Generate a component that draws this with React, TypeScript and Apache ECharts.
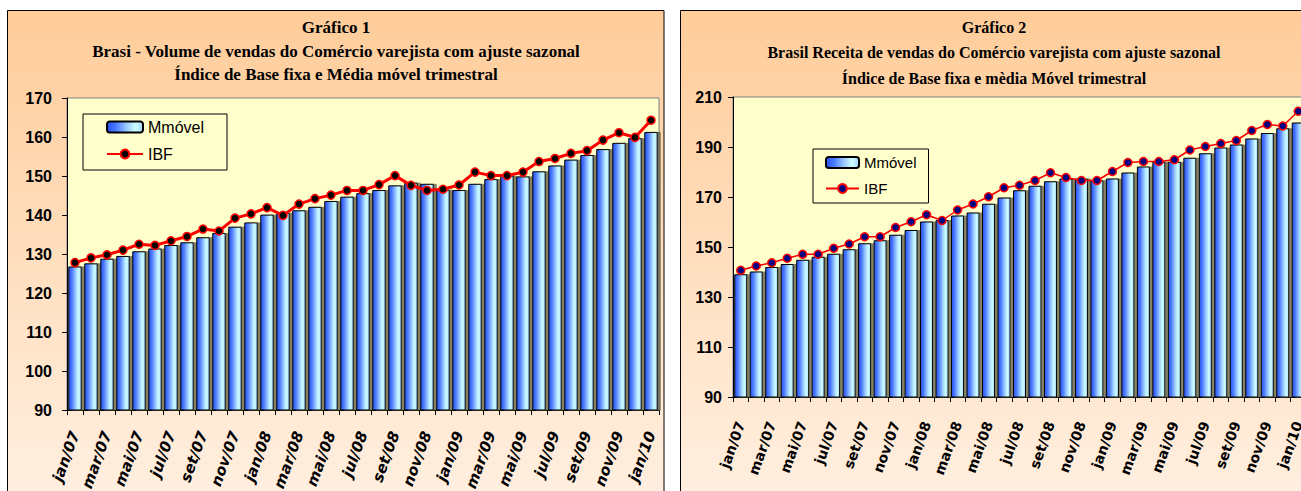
import React, { useEffect, useRef } from "react";
import * as echarts from "echarts";

const months = [
  "jan/07", "fev/07", "mar/07", "abr/07", "mai/07", "jun/07", "jul/07", "ago/07", "set/07", "out/07", "nov/07", "dez/07",
  "jan/08", "fev/08", "mar/08", "abr/08", "mai/08", "jun/08", "jul/08", "ago/08", "set/08", "out/08", "nov/08", "dez/08",
  "jan/09", "fev/09", "mar/09", "abr/09", "mai/09", "jun/09", "jul/09", "ago/09", "set/09", "out/09", "nov/09", "dez/09",
  "jan/10",
];

const volMmovel = [
  126.8, 127.6, 128.8, 129.5, 130.7, 131.4, 132.3, 133.0, 134.3, 135.4, 137.0, 138.1,
  140.1, 140.6, 141.2, 142.1, 143.6, 144.7, 145.6, 146.4, 147.6, 148.3, 148.0, 146.5,
  146.4, 148.0, 149.2, 150.1, 149.9, 151.2, 152.7, 154.2, 155.4, 156.9, 158.5, 159.7,
  161.3,
];
const volIBF = [
  127.8, 129.0, 129.8, 131.0, 132.5, 132.2, 133.4, 134.5, 136.4, 135.9, 139.2, 140.3,
  141.9, 139.9, 142.8, 144.2, 145.1, 146.3, 146.3, 147.8, 150.1, 147.6, 146.3, 146.6,
  147.7, 151.0, 150.1, 150.1, 151.0, 153.7, 154.5, 155.8, 156.5, 159.2, 161.1, 159.9,
  164.3,
];
const recMmovel = [
  139.1, 140.2, 142.0, 143.2, 144.9, 146.1, 147.3, 149.1, 151.5, 152.7, 154.9, 156.8,
  160.2, 160.8, 162.6, 163.8, 167.3, 169.8, 172.7, 174.5, 176.3, 177.4, 177.4, 176.7,
  177.4, 179.8, 182.2, 184.1, 184.1, 185.7, 187.5, 189.8, 191.0, 193.4, 195.6, 197.5,
  199.8,
];
const recIBF = [
  140.7, 142.4, 143.7, 145.5, 147.1, 147.1, 149.5, 151.2, 154.1, 154.1, 157.8, 160.1,
  162.9, 160.6, 164.8, 167.2, 170.1, 173.7, 174.7, 176.6, 179.7, 177.8, 176.6, 176.6,
  180.2, 183.8, 184.2, 184.2, 184.9, 188.8, 190.2, 191.4, 192.6, 196.6, 199.0, 198.4,
  204.3,
];

const title1 = [
  "Gráfico 1",
  "Brasi - Volume de vendas do Comércio varejista com ajuste sazonal",
  "Índice de Base fixa e Média móvel trimestral",
];
const title2 = [
  "Gráfico 2",
  "Brasil Receita de vendas do Comércio varejista com ajuste sazonal",
  "Índice de Base fixa e mèdia Móvel trimestral",
];

const barGradient = () =>
  new echarts.graphic.LinearGradient(0, 0, 1, 0, [
    { offset: 0, color: "#2A52F5" },
    { offset: 0.25, color: "#4A7BFF" },
    { offset: 0.55, color: "#9CCBFF" },
    { offset: 0.8, color: "#CCFFFF" },
    { offset: 1, color: "#A6D4FF" },
  ]);

const frameGradient = () =>
  new echarts.graphic.LinearGradient(0, 0, 0, 1, [
    { offset: 0, color: "#FFCC99" },
    { offset: 0.45, color: "#FFDDBB" },
    { offset: 1, color: "#FFF0E2" },
  ]);

export default function App() {
  const ref = useRef<HTMLDivElement>(null);

  useEffect(() => {
    document.body.style.margin = "0";
    const chart = echarts.init(ref.current!, null, { renderer: "svg" });

    const titleText = (lines: string[], cx: number, ys: number[], size: number) =>
      lines.map((t, i) => ({
        type: "text",
        z: 10,
        style: {
          text: t,
          x: cx,
          y: ys[i],
          align: "center",
          verticalAlign: "middle",
          fontSize: size,
          fontWeight: "bold",
          fontFamily: "Liberation Serif",
          fill: "#000",
        },
      }));

    const yAxisCommon = (grid: number, min: number, max: number, interval: number, margin: number) => ({
      type: "value",
      gridIndex: grid,
      min,
      max,
      interval,
      splitLine: { show: false },
      axisLine: { show: true, lineStyle: { color: "#000", width: 1 } },
      axisTick: { show: true, length: 5, lineStyle: { color: "#000" } },
      axisLabel: {
        margin,
        fontSize: 16,
        fontWeight: "bold",
        fontFamily: "Liberation Sans",
        color: "#000",
      },
    });

    const xAxisCommon = (grid: number, italic: boolean, margin: number, size: number) => ({
      type: "category",
      gridIndex: grid,
      data: months,
      boundaryGap: true,
      axisLine: { show: true, lineStyle: { color: "#000", width: 1 } },
      axisTick: { show: true, interval: 0, length: 5, lineStyle: { color: "#000" } },
      axisLabel: {
        interval: 1,
        rotate: 70,
        margin,
        fontSize: size,
        fontWeight: "bold",
        fontStyle: italic ? "italic" : "normal",
        fontFamily: "DejaVu Sans",
        color: "#000",
      },
    });

    const barSeries = (name: string, idx: number, data: number[]) => ({
      name,
      type: "bar",
      xAxisIndex: idx,
      yAxisIndex: idx,
      data,
      barCategoryGap: "16%",
      itemStyle: {
        color: barGradient(),
        borderColor: "#000",
        borderWidth: 1,
        shadowColor: "rgba(90,90,70,0.75)",
        shadowOffsetX: 3,
        shadowOffsetY: 0,
        shadowBlur: 0,
      },
    });

    const option = {
      animation: false,
      graphic: [
        {
          type: "rect",
          z: -10,
          shape: { x: 7.5, y: 10.5, width: 656.5, height: 500 },
          style: { fill: frameGradient(), stroke: "#000", lineWidth: 1 },
        },
        {
          type: "rect",
          z: -10,
          shape: { x: 680.5, y: 10.5, width: 628, height: 500 },
          style: { fill: frameGradient(), stroke: "#000", lineWidth: 1 },
        },
        ...titleText(title1, 336, [27, 51, 74], 17),
        ...titleText(title2, 994, [27, 52, 78], 16),
      ],
      grid: [
        {
          left: 67,
          top: 98,
          width: 592,
          height: 312,
          outerBoundsMode: "none",
          containLabel: false,
          show: true,
          backgroundColor: "#FFFFCC",
          borderColor: "#808080",
          borderWidth: 1,
        },
        {
          left: 733,
          top: 97,
          width: 573,
          height: 300,
          outerBoundsMode: "none",
          containLabel: false,
          show: true,
          backgroundColor: "#FFFFCC",
          borderColor: "#808080",
          borderWidth: 1,
        },
      ],
      legend: [
        {
          left: 83,
          top: 114,
          orient: "vertical",
          data: ["Mmóvel", "IBF"],
          itemWidth: 36,
          itemHeight: 11,
          itemGap: 11,
          padding: [5, 23, 8, 23],
          backgroundColor: "#FFFFCC",
          borderColor: "#000",
          borderWidth: 1,
          borderRadius: 0,
          textStyle: { fontSize: 16, fontFamily: "Liberation Sans", color: "#000" },
        },
        {
          left: 813,
          top: 149,
          orient: "vertical",
          data: ["Mmóvel ", "IBF "],
          formatter: (n: string) => n.trim(),
          itemWidth: 33,
          itemHeight: 11,
          itemGap: 11,
          padding: [6, 12, 7, 12],
          backgroundColor: "#FFFFCC",
          borderColor: "#000",
          borderWidth: 1,
          borderRadius: 0,
          textStyle: { fontSize: 15, fontFamily: "Liberation Sans", color: "#000" },
        },
      ],
      xAxis: [xAxisCommon(0, true, 22, 15), xAxisCommon(1, false, 25, 14)],
      yAxis: [yAxisCommon(0, 90, 170, 10, 15), yAxisCommon(1, 90, 210, 20, 11)],
      series: [
        barSeries("Mmóvel", 0, volMmovel),
        {
          name: "IBF",
          type: "line",
          xAxisIndex: 0,
          yAxisIndex: 0,
          data: volIBF,
          symbol: "circle",
          symbolSize: 8,
          lineStyle: { color: "#FF0000", width: 3 },
          itemStyle: { color: "#000", borderColor: "#FF0000", borderWidth: 1.5 },
        },
        barSeries("Mmóvel ", 1, recMmovel),
        {
          name: "IBF ",
          type: "line",
          xAxisIndex: 1,
          yAxisIndex: 1,
          data: recIBF,
          symbol: "circle",
          symbolSize: 8,
          lineStyle: { color: "#FF0000", width: 1.5 },
          itemStyle: { color: "#000080", borderColor: "#FF0000", borderWidth: 1.5 },
        },
      ],
    };

    chart.setOption(option as any);
    return () => chart.dispose();
  }, []);

  return <div ref={ref} style={{ width: 1301, height: 491 }} />;
}
